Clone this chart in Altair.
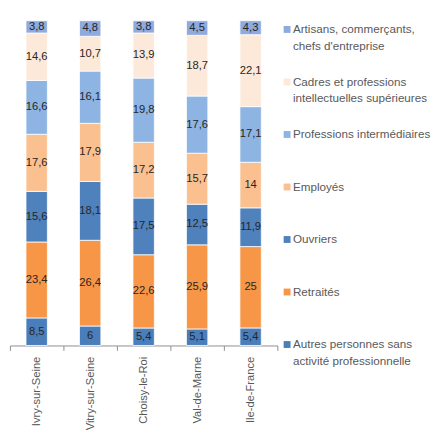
import altair as alt
import pandas as pd

communes = ["Ivry-sur-Seine", "Vitry-sur-Seine", "Choisy-le-Roi", "Val-de-Marne", "Ile-de-France"]

# categories, bottom of stack first
categories = [
    "Autres personnes sans\nactivité professionnelle",
    "Retraités",
    "Ouvriers",
    "Employés",
    "Professions intermédiaires",
    "Cadres et professions\nintellectuelles supérieures",
    "Artisans, commerçants,\nchefs d'entreprise",
]
colors = ["#4A7EBB", "#F79646", "#4F81BD", "#FAC090", "#8DB4E2", "#FDE9D9", "#8FAADC"]

autres = [8.5, 6, 5.4, 5.1, 5.4]
retraites = [23.4, 26.4, 22.6, 25.9, 25]
ouvriers = [15.6, 18.1, 17.5, 12.5, 11.9]
employes = [17.6, 17.9, 17.2, 15.7, 14]
prof_int = [16.6, 16.1, 19.8, 17.6, 17.1]
cadres = [14.6, 10.7, 13.9, 18.7, 22.1]
artisans = [3.8, 4.8, 3.8, 4.5, 4.3]

series = [autres, retraites, ouvriers, employes, prof_int, cadres, artisans]

rows = []
for k, (cat, vals) in enumerate(zip(categories, series)):
    for c, v in zip(communes, vals):
        rows.append({"commune": c, "cat": cat, "ord": k, "value": v})
df = pd.DataFrame(rows)

leg = pd.DataFrame({"cat": categories, "ord": list(range(len(categories)))})

FONT = "Liberation Sans"

color_scale = alt.Scale(domain=categories, range=colors)

base = alt.Chart(df).transform_stack(
    stack="value", groupby=["commune"], sort=[alt.SortField("ord", order="ascending")],
    as_=["v0", "v1"], offset="normalize"
).transform_calculate(
    mid="(datum.v0 + datum.v1) / 2",
    label="replace(toString(datum.value), '.', ',')",
)

xenc = alt.X(
    "commune:N", sort=communes, title=None,
    scale=alt.Scale(paddingInner=0, paddingOuter=0),
    axis=alt.Axis(labelAngle=-90, labelAlign="right", labelBaseline="middle",
                  labelFont=FONT, labelFontSize=11.5, labelColor="#595959",
                  labelPadding=6, tickBand="extent", tickSize=5,
                  tickColor="#8C8C8C", domainColor="#8C8C8C", grid=False,
                  labelLimit=200),
)

bars = base.mark_bar(width={"band": 0.4}, stroke="white", strokeWidth=0.8).encode(
    x=xenc,
    y=alt.Y("v0:Q", scale=alt.Scale(domain=[0, 1]), axis=None),
    y2="v1:Q",
    color=alt.Color("cat:N", scale=color_scale, legend=None),
)

labels = base.mark_text(font=FONT, fontSize=11.5, color="#262626").encode(
    x=alt.X("commune:N", sort=communes),
    y=alt.Y("mid:Q", scale=alt.Scale(domain=[0, 1])),
    text="label:N",
)

main = alt.layer(bars, labels)

ly = alt.Y("cat:N", sort=categories[::-1],
           scale=alt.Scale(type="point", range=[9, 333], padding=0), axis=None)

leg_sq = alt.Chart(leg).mark_square(size=50, opacity=1).encode(
    x=alt.value(285),
    y=ly,
    color=alt.Color("cat:N", scale=color_scale, legend=None),
)
leg_tx = alt.Chart(leg).mark_text(
    font=FONT, fontSize=12, color="#595959", align="left", baseline="alphabetic",
    dy=4, lineBreak="\n", lineHeight=17,
).encode(
    x=alt.value(291),
    y=ly,
    text="cat:N",
)
legend = alt.layer(leg_sq, leg_tx)

chart = alt.layer(main, legend).resolve_scale(y="independent").properties(
    width=275, height=334,
    padding={"left": -4, "top": 6, "right": 0, "bottom": 0},
).configure_view(stroke=None)

chart.save("out.html", embed_options={"renderer": "svg", "actions": False})
